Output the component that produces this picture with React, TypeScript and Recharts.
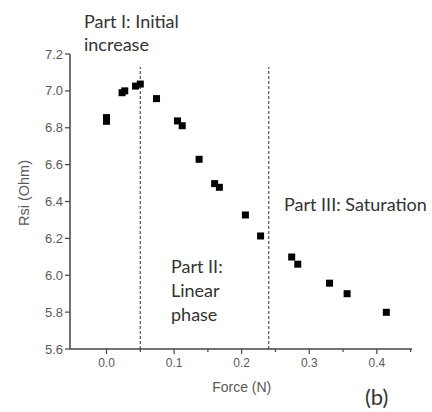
import React from 'react';
import { ScatterChart, Scatter, XAxis, YAxis, ReferenceLine, Customized } from 'recharts';

const forceN = [0.0, 0.0, 0.023, 0.027, 0.043, 0.05, 0.074, 0.105, 0.112, 0.137, 0.16, 0.167, 0.2055, 0.228, 0.274, 0.283, 0.33, 0.356, 0.414];
const rsiOhm = [6.855, 6.835, 6.99, 7.0, 7.026, 7.037, 6.958, 6.837, 6.811, 6.629, 6.497, 6.477, 6.327, 6.213, 6.099, 6.06, 5.957, 5.9, 5.799];
const xTicks = [0, 0.05, 0.1, 0.15, 0.2, 0.25, 0.3, 0.35, 0.4, 0.45];
const xMajor = [0, 0.1, 0.2, 0.3, 0.4];
const yTicks = [5.6, 5.7, 5.8, 5.9, 6.0, 6.1, 6.2, 6.3, 6.4, 6.5, 6.6, 6.7, 6.8, 6.9, 7.0, 7.1, 7.2];
const yMajor = [5.6, 5.8, 6.0, 6.2, 6.4, 6.6, 6.8, 7.0, 7.2];
const boundaries = [0.05, 0.24];

const data = forceN.map((f, i) => ({ force: f, rsi: rsiOhm[i] }));

const isMajor = (v: number, list: number[]) => list.some((m) => Math.abs(m - v) < 1e-6);

const XTick = (props: any) => {
  const { x, y, payload } = props;
  const major = isMajor(payload.value, xMajor);
  return (
    <g>
      <line x1={x} x2={x} y1={y} y2={y + (major ? 5 : 3)} stroke="#444" strokeWidth={1.2} />
      {major && (
        <text x={x} y={y + 18} textAnchor="middle" fontSize={12} fill="#595959" fontFamily="Liberation Sans, Arial, sans-serif">
          {payload.value.toFixed(1)}
        </text>
      )}
    </g>
  );
};

const YTick = (props: any) => {
  const { x, y, payload } = props;
  const major = isMajor(payload.value, yMajor);
  return (
    <g>
      <line x1={x} x2={x - (major ? 5 : 3)} y1={y} y2={y} stroke="#444" strokeWidth={1.2} />
      {major && (
        <text x={x - 7} y={y + 4.5} textAnchor="end" fontSize={13} fill="#595959" fontFamily="Liberation Sans, Arial, sans-serif">
          {payload.value.toFixed(1)}
        </text>
      )}
    </g>
  );
};

const Square = (props: any) => {
  const { cx, cy } = props;
  return <rect x={cx - 3.5} y={cy - 3.5} width={7} height={7} fill="#000" />;
};

const annoFont = 'Lato, "Open Sans", sans-serif';

const Annotations = () => (
  <g fontFamily={annoFont} fill="#333" fontSize={18}>
    <text x={84} y={28}>Part I: Initial</text>
    <text x={84} y={51}>increase</text>
    <text x={171} y={273}>Part II:</text>
    <text x={171} y={297}>Linear</text>
    <text x={171} y={321}>phase</text>
    <text x={284} y={211}>Part III: Saturation</text>
    <text x={365} y={405} fontSize={22}>(b)</text>
    <text x={241.7} y={392} textAnchor="middle" fontSize={14} fill="#595959" fontFamily="Liberation Sans, Arial, sans-serif">Force (N)</text>
    <text x={0} y={0} transform="translate(29,193) rotate(-90)" textAnchor="middle" fontSize={14.5} fill="#595959" fontFamily="Liberation Sans, Arial, sans-serif">Rsi (Ohm)</text>
  </g>
);

export default function App() {
  return (
    <div style={{ position: 'absolute', left: 0, top: 0, width: 432, height: 412, background: '#fff' }}>
      <ScatterChart width={432} height={412} margin={{ top: 54, right: 20, bottom: 23, left: 0 }}>
        <XAxis
          type="number"
          dataKey="force"
          domain={[-0.054, 0.452]}
          ticks={xTicks}
          tick={<XTick />}
          tickLine={false}
          tickSize={0}
          tickMargin={0}
          height={40}
          axisLine={{ stroke: '#444', strokeWidth: 1.5 }}
          allowDataOverflow
        />
        <YAxis
          type="number"
          dataKey="rsi"
          domain={[5.6, 7.2]}
          ticks={yTicks}
          tick={<YTick />}
          tickLine={false}
          tickSize={0}
          tickMargin={0}
          width={70}
          axisLine={{ stroke: '#444', strokeWidth: 1.5 }}
          allowDataOverflow
        />
        {boundaries.map((b) => (
          <ReferenceLine
            key={b}
            segment={[{ x: b, y: 5.6 }, { x: b, y: 7.13 }]}
            stroke="#555"
            strokeWidth={1.2}
            strokeDasharray="3 2"
          />
        ))}
        <Scatter data={data} shape={<Square />} isAnimationActive={false} />
        <Customized component={Annotations} />
      </ScatterChart>
    </div>
  );
}
